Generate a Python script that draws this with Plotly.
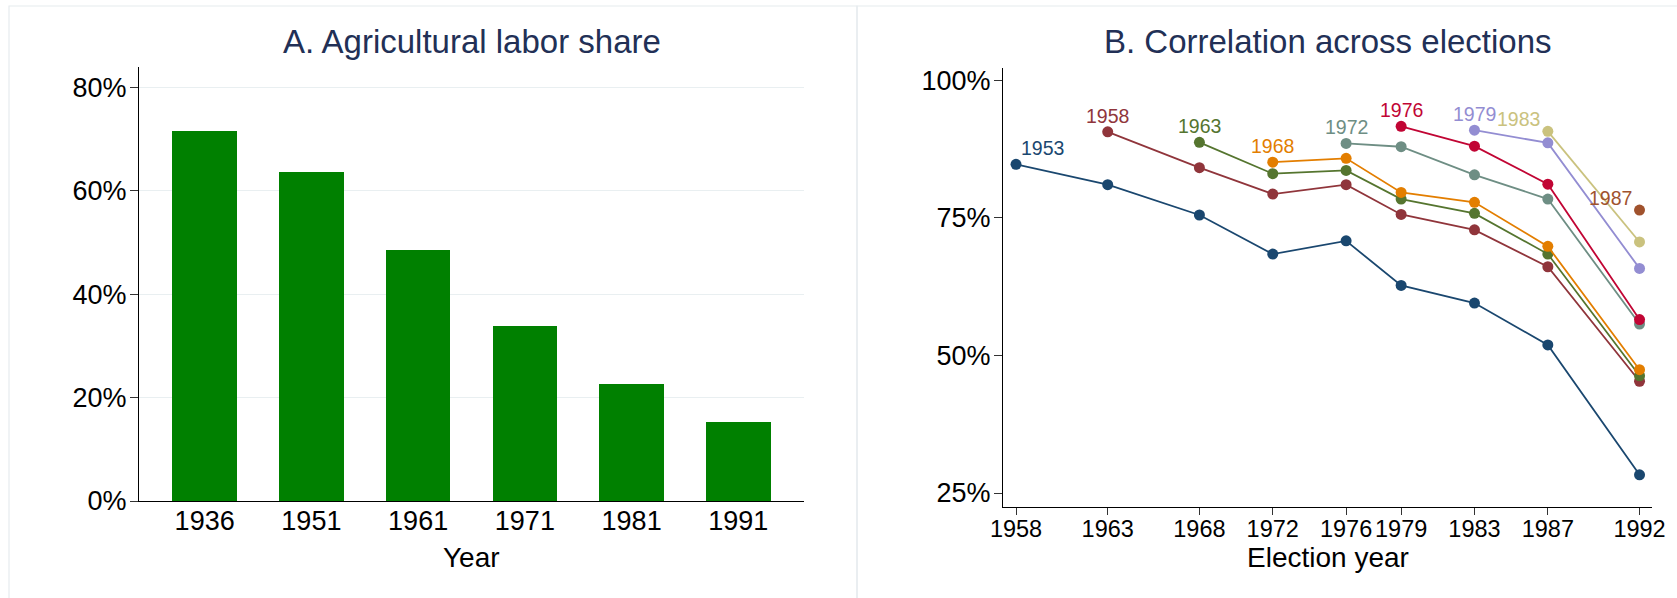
import plotly.graph_objects as go

# Panel A: agricultural labor share by census year (percent)
census_years = ["1936", "1951", "1961", "1971", "1981", "1991"]
agri_share = [71.6, 63.6, 48.5, 33.8, 22.6, 15.2]

# Panel B: correlation between a base election and each later election (percent)
election_years = [1958, 1963, 1968, 1972, 1976, 1979, 1983, 1987, 1992]
base_years = ["1953", "1958", "1963", "1968", "1972", "1976", "1979", "1983", "1987"]
corr_1953 = [84.7, 81.0, 75.5, 68.4, 70.8, 62.7, 59.5, 51.9, 28.3]
corr_1958 = [90.6, 84.1, 79.3, 81.0, 75.6, 72.8, 66.1, 45.3]
corr_1963 = [88.7, 83.0, 83.6, 78.4, 75.8, 68.4, 46.3]
corr_1968 = [85.1, 85.8, 79.6, 77.8, 69.8, 47.4]
corr_1972 = [88.5, 87.9, 82.8, 78.4, 55.7]
corr_1976 = [91.6, 88.0, 81.1, 56.5]
corr_1979 = [90.9, 88.6, 65.8]
corr_1983 = [90.7, 70.6]
corr_1987 = [76.4]
series = [corr_1953, corr_1958, corr_1963, corr_1968, corr_1972,
          corr_1976, corr_1979, corr_1983, corr_1987]

colors = ["#1a476f", "#90353b", "#55752f", "#e37e00", "#6e8e84",
          "#c10534", "#938dd2", "#cac27e", "#a0522d"]

FONT = "Liberation Sans, Arial, sans-serif"
TITLE_COLOR = "#223056"
W, H = 1677, 598


def px_x(px):
    return px / W


def px_y(px):
    return 1 - px / H


fig = go.Figure()

fig.add_trace(go.Bar(
    x=census_years, y=agri_share, width=0.605,
    marker=dict(color="#008000", line=dict(width=0)),
    xaxis="x", yaxis="y", showlegend=False,
))

annotations = []
for i, (base, vals, col) in enumerate(zip(base_years, series, colors)):
    xs = election_years[len(election_years) - len(vals):]
    fig.add_trace(go.Scatter(
        x=xs, y=vals, mode="lines+markers",
        line=dict(color=col, width=1.8),
        marker=dict(color=col, size=11),
        xaxis="x2", yaxis="y2", showlegend=False,
    ))
    if base == "1953":
        xanchor, xshift, yshift = "left", 3, 3
    elif base in ("1983", "1987"):
        xanchor, xshift, yshift = "right", -6, -1
    else:
        xanchor, xshift, yshift = "center", 0, 3
    annotations.append(dict(
        x=xs[0], y=vals[0], xref="x2", yref="y2", text=base,
        showarrow=False, xanchor=xanchor, yanchor="bottom",
        xshift=xshift, yshift=yshift,
        font=dict(family=FONT, size=19.5, color=col),
    ))

# Panel titles and axis titles
annotations += [
    dict(x=px_x(471.5), y=px_y(42), xref="paper", yref="paper",
         text="A. Agricultural labor share", showarrow=False,
         xanchor="center", yanchor="middle",
         font=dict(family=FONT, size=33, color=TITLE_COLOR)),
    dict(x=px_x(1327.5), y=px_y(42), xref="paper", yref="paper",
         text="B. Correlation across elections", showarrow=False,
         xanchor="center", yanchor="middle",
         font=dict(family=FONT, size=33, color=TITLE_COLOR)),
    dict(x=px_x(471.5), y=px_y(557), xref="paper", yref="paper",
         text="Year", showarrow=False, xanchor="center", yanchor="middle",
         font=dict(family=FONT, size=28, color="#000000")),
    dict(x=px_x(1327.5), y=px_y(557), xref="paper", yref="paper",
         text="Election year", showarrow=False, xanchor="center", yanchor="middle",
         font=dict(family=FONT, size=28, color="#000000")),
]

# Light panel frames
shapes = [
    dict(type="rect", xref="paper", yref="paper",
         x0=px_x(9), x1=px_x(857), y0=px_y(640), y1=px_y(6),
         line=dict(color="#e6ecee", width=1.2), layer="below"),
    dict(type="rect", xref="paper", yref="paper",
         x0=px_x(857), x1=px_x(1720), y0=px_y(640), y1=px_y(6),
         line=dict(color="#e6ecee", width=1.2), layer="below"),
]

axis_common = dict(
    showline=True, linecolor="#000000", linewidth=1.3,
    ticks="outside", tickcolor="#333333", ticklen=8, tickwidth=1.3,
    tickfont=dict(family=FONT, size=27, color="#000000"),
    zeroline=False, automargin=False, tickangle=0,
)

fig.update_layout(
    template="none",
    width=W, height=H,
    margin=dict(l=0, r=0, t=0, b=0, pad=0),
    paper_bgcolor="#ffffff", plot_bgcolor="rgba(0,0,0,0)",
    font=dict(family=FONT),
    bargap=0,
    xaxis=dict(
        domain=[px_x(139), px_x(804)], anchor="y",
        type="category", range=[-0.615, 5.615],
        showline=True, linecolor="#000000", linewidth=1.3,
        ticks="", showgrid=False, zeroline=False, automargin=False,
        tickangle=0, ticklabelstandoff=-5,
        tickfont=dict(family=FONT, size=27, color="#000000"),
    ),
    yaxis=dict(
        domain=[px_y(501), px_y(67)], anchor="x",
        range=[0, 83.9], tickvals=[0, 20, 40, 60, 80],
        ticktext=["0%", "20%", "40%", "60%", "80%"],
        showgrid=True, gridcolor="#e9eff1", gridwidth=1.3,
        ticklabelstandoff=-2,
        **axis_common,
    ),
    xaxis2=dict(
        domain=[px_x(1003), px_x(1652)], anchor="y2",
        range=[1957.29, 1992.68], tickvals=election_years,
        ticktext=[str(y) for y in election_years],
        showgrid=False, ticklabelstandoff=-6,
        **{**axis_common, "tickfont": dict(family=FONT, size=23.5, color="#000000"),
           "ticklen": 7},
    ),
    yaxis2=dict(
        domain=[px_y(507), px_y(68)], anchor="x2",
        range=[22.46, 102.2], tickvals=[25, 50, 75, 100],
        ticktext=["25%", "50%", "75%", "100%"],
        showgrid=False, ticklabelstandoff=-2,
        **axis_common,
    ),
    annotations=annotations,
    shapes=shapes,
)

fig.write_html("out.html")
